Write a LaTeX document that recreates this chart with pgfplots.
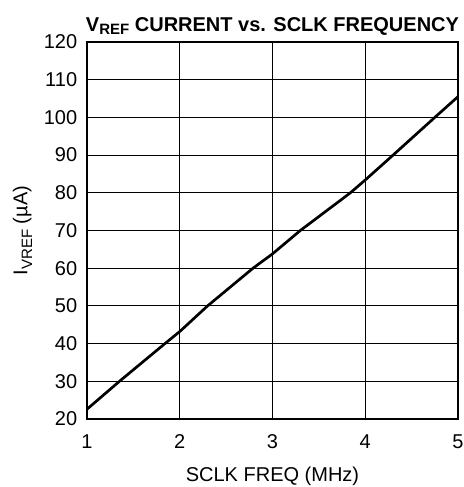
\documentclass[border=0pt]{standalone}
\usepackage{pgfplots}
\pgfplotsset{compat=1.18}
\usepackage{fontspec}
\setmainfont{Liberation Sans}
\begin{document}
\fontsize{20}{24}\selectfont
\begin{tikzpicture}
\begin{axis}[
	name=ax,
	at={(0,0)}, anchor=south west,
	scale only axis,
	width=371pt, height=377pt,
	xmin=1, xmax=5, ymin=20, ymax=120,
	xtick={1,2,3,4,5}, ytick={20,30,...,120},
	grid=major,
	grid style={black, line width=1pt},
	axis line style={black, line width=1.8pt},
	major tick length=0pt,
	tick label style={font=\fontsize{20}{24}\selectfont},
	/pgf/number format/assume math mode=true,
	xticklabel style={yshift=-9pt},
	yticklabel style={xshift=-3pt},
	xlabel={SCLK FREQ (MHz)},
	ylabel={I\raisebox{-0.45ex}{\fontsize{15}{15}\selectfont VREF} (µA)},
	label style={font=\fontsize{20}{24}\selectfont},
	xlabel style={yshift=-4pt},
	ylabel style={yshift=-2pt},
	title={\bfseries V\raisebox{-0.35ex}{\fontsize{15}{15}\selectfont REF} CURRENT vs. SCLK FREQUENCY},
	title style={font=\fontsize{20}{24}\selectfont, yshift=-6pt},
]
\addplot[black, line width=2.7pt] coordinates {
	(1,22.6) (1.35,30) (1.84,40) (2,43.2) (2.30,50) (2.79,60) (3,63.8)
	(3.30,70) (3.84,80) (4,83.4) (4.30,90) (4.75,100) (5,105.5)
};
\end{axis}
\pgfresetboundingbox
\path[use as bounding box] ([shift={(-87pt,-68pt)}]ax.south west) rectangle ([shift={(6pt,42pt)}]ax.north east);
\end{tikzpicture}
\end{document}
